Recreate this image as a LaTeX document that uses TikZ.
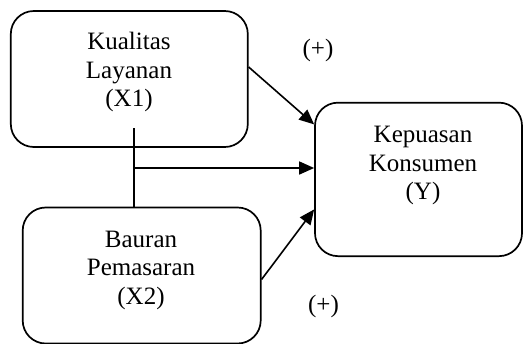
\documentclass[tikz,border=0pt]{standalone}
\usepackage{fontspec}
\setmainfont{Liberation Serif}
\usetikzlibrary{arrows.meta}
\tikzset{
  box/.style={draw=black, line width=1.7pt, rounded corners=23pt, minimum width=237pt, inner sep=0pt},
  lbl/.style={align=center, font=\fontsize{25}{28.5}\selectfont, inner sep=0pt},
  conn/.style={line width=1.6pt},
  arr/.style={conn, -{Triangle[length=15pt,width=13pt]}},
}
\begin{document}
\begin{tikzpicture}[x=1pt,y=-1pt]
\useasboundingbox (0,0) rectangle (524,343);
\node[box, minimum height=136pt] (x1) at (129.3,79) {};
\node[box, minimum height=136pt, minimum width=238pt] (x2) at (141.7,275.5) {};
\node[box, minimum width=207pt, minimum height=153.5pt] (y) at (418.5,179.4) {};
\node[lbl] (x1t) at (129,72) {Kualitas\\Layanan\\(X1)};
\node[lbl] (x2t) at (141,270) {Bauran\\Pemasaran\\(X2)};
\node[lbl] (yt) at (423,165.5) {Kepuasan\\Konsumen\\(Y)};
\node[lbl] (p1) at (318,50) {(+)};
\node[lbl] (p2) at (323.5,306) {(+)};
\coordinate (jtop) at (134,128);
\coordinate (junc) at (134,168);
\draw[conn] (jtop) -- (jtop |- x2.north);
\draw[arr] (junc) -- (junc -| y.west);
\draw[arr] ([yshift=12pt]x1.east) -- ([yshift=55pt]y.west);
\draw[arr] ([yshift=-4pt]x2.east) -- ([yshift=-30pt]y.west);
\end{tikzpicture}
\end{document}
